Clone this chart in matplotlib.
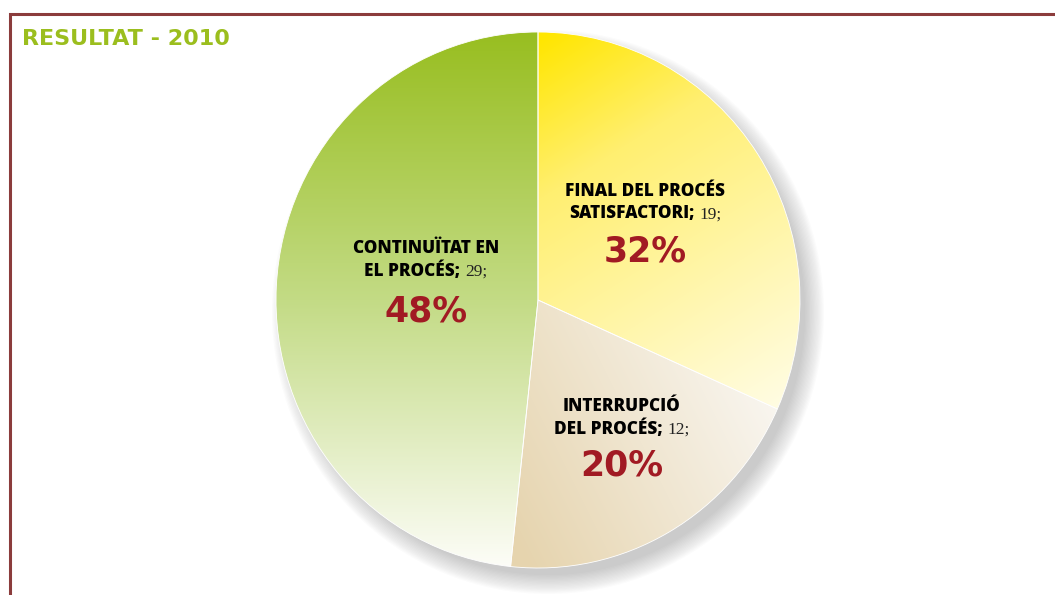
import numpy as np
import matplotlib
matplotlib.use("Agg")
import matplotlib.pyplot as plt
from matplotlib.patches import Ellipse

# ---------------- data ----------------
title = "RESULTAT - 2010"
categories = ["FINAL DEL PROCÉS\nSATISFACTORI", "INTERRUPCIÓ\nDEL PROCÉS", "CONTINUÏTAT EN\nEL PROCÉS"]
values = [19, 12, 29]

# ---------------- style / layout ----------------
W, H = 1055, 595
L, T, R, B = 276, 32, 800, 568          # pie bounding box (px)
label_layout = [(645, 196, 262), (622, 411, 475), (426, 253, 322)]  # cx, first baseline, pct baseline
line_gap = 22.5
SANS = "Open Sans"
SERIF = "Liberation Serif"
border_col = "#8B3C3C"
title_col = "#9BBE1E"
pct_col = "#A11A23"

grad_specs = [
    # p0, p1, stops, colours   (pixel coordinates)
    ((545, 35), (785, 420), [0, 0.3, 1], ["#FFE600", "#FFEF70", "#FFFDE8"]),
    ((505, 520), (785, 380), [0, 1], ["#E6D4AE", "#FAF8F4"]),
    ((420, 32), (420, 568), [0, 0.5, 1], ["#98BE20", "#C3DB85", "#FDFDF8"]),
]

fig = plt.figure(figsize=(W / 100, H / 100), dpi=100)
fig.patch.set_facecolor("white")

axp = fig.add_axes([L / W, 1 - B / H, (R - L) / W, (B - T) / H])
wedges, _ = axp.pie(values, startangle=90, counterclock=False, radius=1,
                    wedgeprops=dict(edgecolor="white", linewidth=0.6))
axp.set_aspect("auto")
axp.set_xlim(-1, 1)
axp.set_ylim(-1, 1)
axp.axis("off")

# shadow
rx, ry = (R - L) / 2, (B - T) / 2
sx, sy = 10 / rx, -12 / ry
n_sh = 16
for k in range(n_sh):
    g = -5 + 19 * k / (n_sh - 1)
    e = Ellipse((sx, sy), 2 * (1 + g / rx), 2 * (1 + g / ry),
                facecolor="#707070", edgecolor="none", alpha=0.022, zorder=0.5, clip_on=False)
    axp.add_patch(e)

nx, ny = R - L, B - T
xs = np.linspace(L, R, nx)
ys = np.linspace(T, B, ny)
X, Y = np.meshgrid(xs, ys)


def hex2rgb(h):
    h = h.lstrip("#")
    return [int(h[i:i + 2], 16) / 255 for i in (0, 2, 4)]


for wedge, (p0, p1, stops, cols) in zip(wedges, grad_specs):
    d = np.array(p1, float) - np.array(p0, float)
    t = ((X - p0[0]) * d[0] + (Y - p0[1]) * d[1]) / (d @ d)
    t = np.clip(t, 0, 1)
    rgb = [hex2rgb(c) for c in cols]
    img = np.stack([np.interp(t, stops, [c[i] for c in rgb]) for i in range(3)], -1)
    im = axp.imshow(img, extent=(-1, 1, -1, 1), origin="upper", aspect="auto",
                    zorder=2, interpolation="bilinear")
    im.set_clip_path(wedge)
    wedge.set_facecolor("none")
    wedge.set_zorder(3)

# overlay axes in pixel coordinates
ax0 = fig.add_axes([0, 0, 1, 1], zorder=5)
ax0.set_xlim(0, W)
ax0.set_ylim(H, 0)
ax0.axis("off")
ax0.patch.set_alpha(0)

ax0.plot([9.5, 9.5, W], [H, 13.5, 13.5], color=border_col, lw=2.2,
         solid_joinstyle="miter", solid_capstyle="butt")
ax0.text(22, 45, title, color=title_col, fontsize=16, fontweight="heavy",
         family="DejaVu Sans", ha="left", va="baseline")

renderer = fig.canvas.get_renderer()
total = sum(values)
for cat, v, (cx, y0, yp) in zip(categories, values, label_layout):
    lines = cat.split("\n")
    for i, ln in enumerate(lines):
        y = y0 + i * line_gap
        last = i == len(lines) - 1
        t1 = ax0.text(0, y, ln + (";" if last else ""), family=SANS, fontweight="heavy",
                      fontsize=12.3, color="black", ha="left", va="baseline")
        w1 = t1.get_window_extent(renderer).width
        w2 = 0
        t2 = None
        if last:
            t2 = ax0.text(0, y, f"{v};", family=SERIF, fontsize=12.5, color="#222222",
                          ha="left", va="baseline")
            w2 = t2.get_window_extent(renderer).width + 5
        x0 = cx - (w1 + w2) / 2
        t1.set_x(x0)
        if t2 is not None:
            t2.set_x(x0 + w1 + 5)
    ax0.text(cx, yp, f"{round(100 * v / total)}%", family="DejaVu Sans", fontweight="bold",
             fontsize=25, color=pct_col, ha="center", va="baseline")

fig.savefig("out.png", dpi=100, facecolor="white")
